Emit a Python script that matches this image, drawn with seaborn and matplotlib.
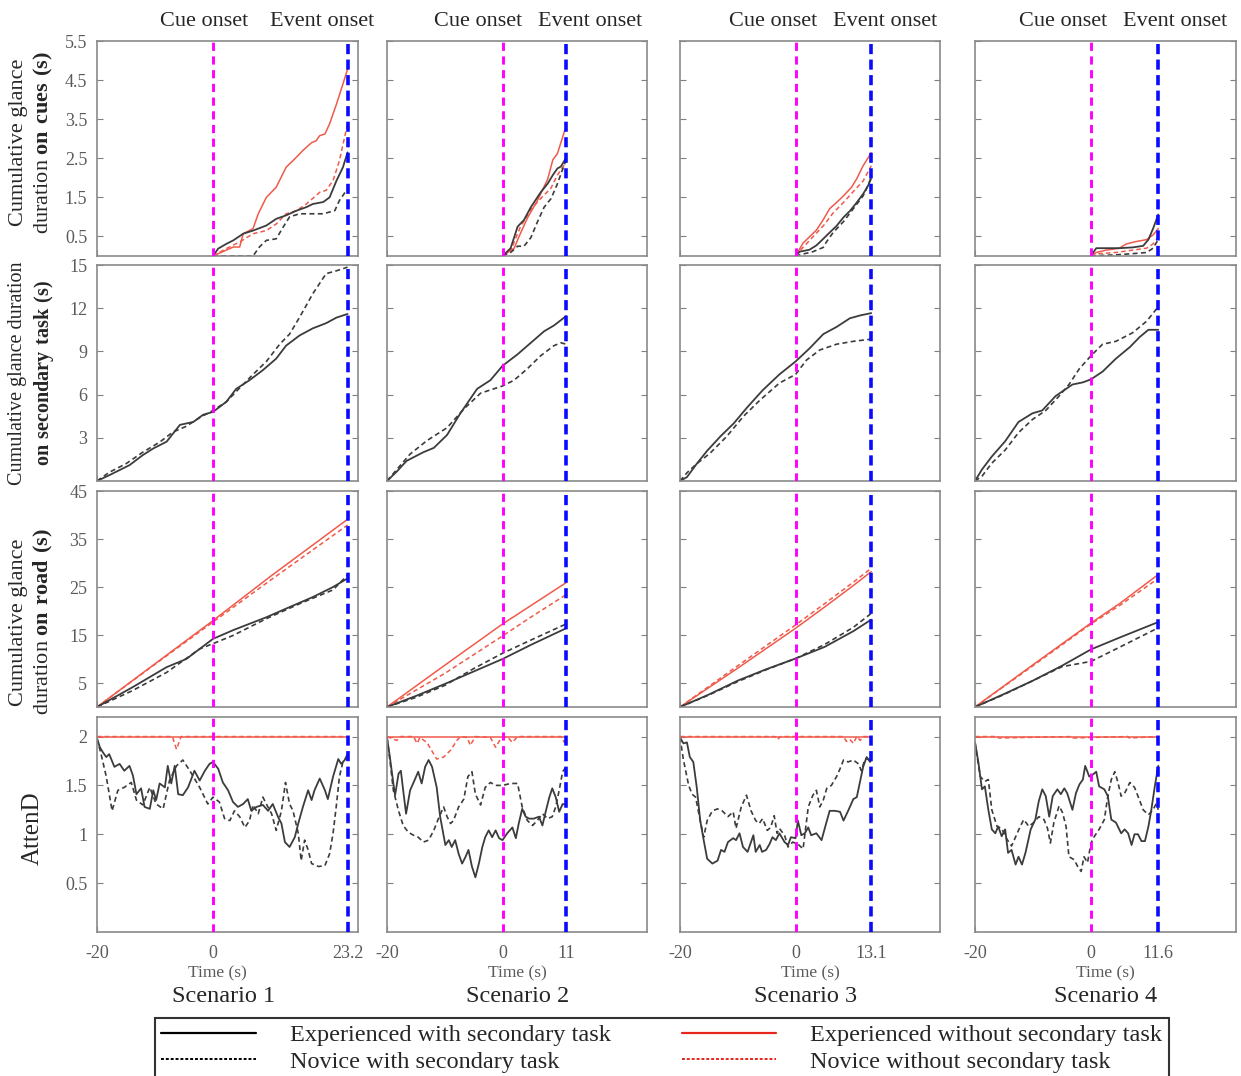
import matplotlib
matplotlib.use('Agg')
import matplotlib.pyplot as plt
import seaborn as sns
from matplotlib.lines import Line2D

# ---------------- data ----------------
# each series: [time (s), value]
scenario_names = ['Scenario 1', 'Scenario 2', 'Scenario 3', 'Scenario 4']
event_times = [23.2, 11, 13.1, 11.6]
series_labels = ['Experienced with secondary task', 'Novice with secondary task',
                 'Experienced without secondary task', 'Novice without secondary task']

# Scenario 1
s1_cue_ew = [[0, 0.9, 2.3, 3.5, 5.2, 6.9, 9.2, 10.9, 12.6, 14.4, 16.1, 17.2, 19.0, 20.1, 21.3, 22.4, 23.2],
             [0, 0.19, 0.31, 0.40, 0.57, 0.65, 0.78, 0.95, 1.04, 1.16, 1.25, 1.33, 1.38, 1.50, 1.93, 2.27, 2.65]]
s1_cue_nw = [[0, 6.9, 8.0, 9.2, 10.9, 12.1, 13.2, 14.9, 17.2, 19.0, 21.0, 21.8, 23.2],
             [0, 0, 0.23, 0.40, 0.44, 0.74, 1.0, 1.08, 1.08, 1.08, 1.16, 1.42, 1.72]]
s1_cue_eo = [[0, 3.5, 4.6, 5.2, 6.9, 7.8, 9.2, 10.9, 12.6, 13.8, 15.5, 17.0, 17.8, 18.4, 19.3, 20.1, 21.3, 22.4, 23.2],
             [0, 0.23, 0.23, 0.57, 0.70, 1.08, 1.50, 1.76, 2.27, 2.44, 2.70, 2.90, 2.95, 3.08, 3.12, 3.38, 3.89, 4.40, 4.78]]
s1_cue_no = [[0, 2.3, 4.6, 6.9, 9.2, 10.9, 12.6, 14.4, 16.1, 18.4, 19.5, 20.7, 21.8, 23.2],
             [0, 0.19, 0.36, 0.57, 0.65, 0.82, 1.08, 1.16, 1.33, 1.63, 1.68, 1.93, 2.44, 3.38]]
s1_task_ew = [[-20, -17.9, -14.4, -12.1, -10.3, -8.0, -5.7, -3.4, -1.7, 0, 2.3, 4.0, 6.3, 8.6, 10.9, 12.6, 14.9, 17.2, 19.5, 21.3, 23.2],
              [0, 0.4, 1.1, 1.8, 2.26, 2.73, 3.9, 4.1, 4.6, 4.8, 5.5, 6.4, 7.0, 7.7, 8.5, 9.4, 10.1, 10.6, 10.96, 11.35, 11.6]]
s1_task_nw = [[-20, -17.9, -15, -12.1, -9.2, -6.9, -4.6, -2.3, 0, 2.3, 4.6, 6.9, 9.2, 11.5, 13.2, 14.9, 17.2, 19.5, 21.3, 23.2],
              [0, 0.6, 1.2, 2.0, 2.7, 3.4, 3.8, 4.4, 4.9, 5.5, 6.46, 7.4, 8.3, 9.5, 10.2, 11.35, 13.0, 14.4, 14.6, 14.85]]
s1_road_ew = [[-20, -13.9, -8.0, -4.6, 0, 3.45, 9.2, 12.6, 17.2, 20.7, 23.2],
              [0, 4.1, 8.3, 10.0, 14.2, 16.0, 18.7, 20.5, 22.9, 25.0, 26.8]]
s1_road_nw = [[-20, -13.9, -8.0, -2.3, 0, 3.45, 9.2, 14.9, 20.7, 23.2],
              [0, 3.4, 7.2, 12.1, 13.2, 14.9, 18.4, 21.5, 24.4, 27.5]]
s1_road_eo = [[-20, -10, 0, 10, 23.2], [0, 9.0, 18.0, 27.3, 39.1]]
s1_road_no = [[-20, -10, 0, 10, 23.2], [0, 8.9, 17.7, 26.5, 37.9]]
s1_att_ew = [[-20, -19.5, -19, -18.4, -17.9, -17, -16.1, -15.3, -14.4, -13.8, -13.2, -12.4, -11.8, -10.9, -10.3, -9.8,
              -9.2, -8.3, -7.8, -7.2, -6.6, -6.0, -5.2, -4.3, -3.2, -2.3, -1.4, -0.6, 0, 0.9, 1.7, 2.6, 3.45, 4.3, 5.2,
              6.0, 6.6, 7.5, 8.6, 9.5, 10.3, 11.2, 11.8, 12.4, 13.2, 14.1, 14.7, 15.5, 16.4, 17.0, 17.5, 18.4, 19.3,
              19.8, 20.7, 21.6, 22.1, 22.7, 23.2],
             [1.98, 1.89, 1.84, 1.79, 1.82, 1.69, 1.72, 1.65, 1.70, 1.60, 1.41, 1.47, 1.28, 1.26, 1.45, 1.35,
              1.52, 1.48, 1.70, 1.52, 1.70, 1.41, 1.40, 1.48, 1.65, 1.55, 1.65, 1.72, 1.74, 1.67, 1.53, 1.45, 1.33, 1.28, 1.31,
              1.36, 1.24, 1.28, 1.30, 1.24, 1.31, 1.18, 1.11, 0.92, 0.87, 0.97, 1.11, 1.28, 1.45, 1.35, 1.45, 1.57, 1.45,
              1.36, 1.59, 1.77, 1.72, 1.76, 1.82]]
s1_att_nw = [[-20, -19.3, -18.4, -17.4, -16.4, -15.3, -14.1, -13.2, -12.1, -10.9, -9.8, -8.6, -7.5, -6.3, -5.2, -4.0,
              -2.3, -0.9, 0, 1.1, 2.0, 2.9, 3.7, 4.6, 5.5, 6.3, 6.9, 7.8, 8.6, 9.2, 10.1, 10.9, 11.8, 12.5, 13.2, 13.8,
              14.7, 15.2, 15.8, 16.4, 17.0, 18.2, 19.3, 20.1, 20.7, 21.3, 21.8, 22.4, 23.2],
             [1.98, 1.82, 1.59, 1.24, 1.45, 1.48, 1.53, 1.35, 1.30, 1.48, 1.31, 1.26, 1.55, 1.70, 1.76, 1.65,
              1.48, 1.31, 1.38, 1.33, 1.16, 1.14, 1.24, 1.18, 1.07, 1.14, 1.30, 1.21, 1.38, 1.31, 1.21, 1.04, 1.24, 1.53, 1.31, 1.24,
              1.01, 0.73, 0.94, 0.84, 0.70, 0.67, 0.68, 0.80, 1.01, 1.31, 1.59, 1.74, 1.79]]
s1_att_eo = [[-20, 23.2], [2, 2]]
s1_att_no = [[-20, -7.0, -6.3, -5.5, 23.2], [2, 2, 1.87, 2, 2]]

# Scenario 2
s2_cue_ew = [[0, 1.4, 2.6, 3.7, 4.9, 6.6, 7.8, 8.7, 9.5, 10.1, 11],
             [0, 0.2, 0.75, 0.92, 1.25, 1.63, 1.85, 2.07, 2.24, 2.29, 2.51]]
s2_cue_nw = [[0, 1.4, 2.6, 3.7, 4.9, 6.0, 7.2, 8.4, 9.5, 11],
             [0, 0.09, 0.25, 0.25, 0.47, 0.86, 1.25, 1.47, 1.85, 2.46]]
s2_cue_eo = [[0, 2.0, 3.1, 4.3, 6.0, 7.8, 8.7, 9.5, 10.8],
             [0, 0.2, 0.58, 0.97, 1.41, 1.96, 2.46, 2.62, 3.23]]
s2_cue_no = [[0, 1.4, 3.1, 4.9, 6.6, 8.4, 9.5, 11],
             [0, 0.14, 0.75, 1.19, 1.47, 1.74, 2.07, 2.40]]
s2_task_ew = [[-20, -18.3, -16.6, -13.7, -11.9, -9.6, -7.3, -4.4, -2.1, 0, 2.6, 4.9, 7.2, 8.9, 11],
              [0, 0.66, 1.4, 2.0, 2.3, 3.2, 4.7, 6.4, 7.0, 8.0, 8.8, 9.6, 10.4, 10.8, 11.45]]
s2_task_nw = [[-20, -18.3, -16, -13.1, -9.6, -6.7, -3.8, 0, 2.0, 4.3, 6.6, 8.9, 10.1, 11],
              [0, 0.8, 1.87, 2.8, 3.7, 5.0, 6.1, 6.6, 7.0, 7.8, 8.7, 9.4, 9.6, 9.5]]
s2_road_ew = [[-20, -15, -10, -5, 0, 5, 11], [0, 2.3, 4.8, 7.4, 10.0, 13.0, 16.4]]
s2_road_nw = [[-20, -15, -10, -5, 0, 5, 11], [0, 2.0, 4.5, 8.0, 11.2, 14.0, 17.3]]
s2_road_eo = [[-20, -10, 0, 5, 11], [0, 8.7, 17.3, 21.2, 25.9]]
s2_road_no = [[-20, -10, 0, 5, 11], [0, 7.0, 14.8, 18.8, 23.4]]
s2_att_ew = [[-20, -19.5, -18.9, -18.6, -18.0, -17.6, -17.2, -16.7, -16.0, -15.4, -14.6, -14.0, -13.4, -12.8, -12.2,
              -11.4, -10.8, -9.9, -9.3, -8.8, -8.2, -7.6, -7.0, -6.4, -5.9, -5.3, -4.7, -4.1, -3.5, -3.0, -2.4, -1.8,
              -1.2, -0.6, 0, 0.8, 1.7, 2.3, 2.8, 3.4, 4.0, 4.6, 5.4, 6.3, 6.9, 7.5, 8.1, 8.6, 9.2, 9.8, 10.4, 11],
             [1.99, 1.79, 1.52, 1.40, 1.62, 1.65, 1.45, 1.21, 1.45, 1.53, 1.64, 1.52, 1.69, 1.76, 1.69,
              1.48, 1.18, 0.89, 0.94, 0.87, 0.94, 0.80, 0.70, 0.77, 0.84, 0.67, 0.56, 0.70, 0.87, 0.97, 1.04, 0.97,
              1.04, 0.96, 0.94, 1.01, 1.07, 0.96, 1.11, 1.26, 1.18, 1.16, 1.16, 1.18, 1.09, 1.24, 1.38, 1.47, 1.38, 1.23, 1.31, 1.30]]
s2_att_nw = [[-20, -19.5, -18.9, -18.0, -17.2, -16.3, -15.4, -14.6, -13.7, -12.8, -11.9, -11.1, -10.2, -9.6, -9.0,
              -8.5, -7.6, -6.7, -6.0, -5.3, -4.7, -3.8, -3.0, -2.1, -1.2, 0, 1.4, 2.6, 3.4, 4.3, 5.2, 6.0, 6.9, 7.8,
              8.6, 9.2, 9.8, 10.4, 11],
             [1.99, 1.76, 1.45, 1.24, 1.09, 1.02, 0.99, 0.97, 0.92, 0.94, 1.04, 1.16, 1.28, 1.18, 1.11,
              1.14, 1.28, 1.36, 1.59, 1.64, 1.41, 1.30, 1.48, 1.53, 1.50, 1.50, 1.52, 1.52, 1.28, 1.14, 1.09, 1.14, 1.21, 1.16,
              1.18, 1.28, 1.45, 1.64, 1.69]]
s2_att_eo = [[-20, 11], [2, 2]]
s2_att_no = [[-20, -18.3, -17.7, -15.4, -14.8, -14.3, -13.1, -11.4, -10.2, -9.0, -7.9, -7.3, -6.1, -5.6, -4.7, -2.1,
              -1.2, -0.3, 0.8, 1.7, 2.6, 10.1, 10.7, 11],
             [2, 1.96, 2, 2, 1.93, 1.99, 1.94, 1.77, 1.79, 1.86, 1.96, 2, 1.99, 1.91, 2, 1.99,
              1.89, 1.98, 2, 1.94, 2, 2, 1.94, 2]]

# Scenario 3
s3_cue_ew = [[0, 0.7, 2.4, 3.6, 4.8, 5.9, 7.1, 8.3, 9.4, 10.6, 11.7, 12.6, 13.1],
             [0, 0.11, 0.16, 0.27, 0.44, 0.60, 0.77, 0.99, 1.15, 1.37, 1.59, 1.81, 2.03]]
s3_cue_nw = [[0, 1.3, 3.0, 4.8, 5.3, 6.5, 8.3, 10.0, 11.7, 13.1],
             [0, 0.05, 0.11, 0.22, 0.35, 0.60, 0.88, 1.21, 1.54, 1.98]]
s3_cue_eo = [[0, 1.3, 2.4, 3.6, 4.8, 5.9, 7.1, 8.3, 9.7, 10.6, 11.7, 13.1],
             [0, 0.33, 0.49, 0.66, 0.93, 1.21, 1.37, 1.54, 1.76, 1.98, 2.31, 2.64]]
s3_cue_no = [[0, 1.3, 3.0, 4.8, 6.5, 8.3, 10.0, 11.7, 13.1],
             [0, 0.22, 0.49, 0.77, 1.10, 1.37, 1.65, 1.92, 2.31]]
s3_task_ew = [[-20, -18.8, -17.1, -15.3, -13.0, -10.7, -8.4, -5.7, -2.8, 0, 2.4, 4.8, 7.1, 9.4, 11.2, 13.1],
              [0, 0.27, 1.2, 2.1, 3.1, 4.0, 5.1, 6.3, 7.4, 8.3, 9.2, 10.2, 10.7, 11.3, 11.5, 11.66]]
s3_task_nw = [[-20, -18.8, -17.1, -14.8, -11.9, -9.0, -6.2, -2.8, 0, 1.9, 4.2, 7.1, 10.0, 13.1],
              [0, 0.57, 1.2, 1.93, 3.1, 4.5, 5.6, 6.8, 7.4, 8.4, 9.1, 9.5, 9.7, 9.85]]
s3_road_ew = [[-20, -15, -10, -5, 0, 5, 10, 13.1], [0, 2.6, 5.5, 7.9, 10.1, 12.5, 15.8, 18.2]]
s3_road_nw = [[-20, -15, -10, -5, 0, 5, 10, 13.1], [0, 2.5, 5.3, 7.8, 10.1, 13.0, 16.6, 19.5]]
s3_road_eo = [[-20, -10, 0, 5, 10, 13.1], [0, 8.1, 16.4, 20.8, 25.3, 28.2]]
s3_road_no = [[-20, -10, 0, 5, 10, 13.1], [0, 8.6, 17.1, 21.5, 26.0, 28.9]]
s3_att_ew = [[-20, -19.4, -18.8, -18.3, -17.7, -17.1, -16.5, -15.9, -15.3, -14.4, -13.5, -12.9, -12.3, -11.7, -10.8,
              -10.3, -9.7, -9.1, -8.3, -7.3, -6.9, -6.2, -5.8, -5.1, -4.5, -4.0, -3.4, -2.8, -1.9, -1.3, -0.8, 0, 0.4,
              1.0, 1.6, 2.2, 2.7, 3.6, 4.5, 5.1, 5.9, 6.8, 7.7, 8.3, 9.1, 10.0, 10.6, 11.2, 11.7, 12.3, 12.9, 13.1],
             [1.99, 1.93, 1.94, 1.79, 1.74, 1.48, 1.14, 0.94, 0.75, 0.70, 0.73, 0.84, 0.82, 0.92, 0.96,
              0.94, 1.01, 0.87, 0.82, 0.99, 0.82, 0.89, 0.82, 0.84, 0.90, 0.97, 0.94, 1.01, 0.92, 0.89, 0.97, 0.96, 1.14,
              0.99, 1.01, 1.07, 0.99, 1.01, 0.94, 1.07, 1.24, 1.24, 1.23, 1.14, 1.24, 1.36, 1.38, 1.55, 1.69, 1.79, 1.74, 1.76]]
s3_att_nw = [[-20, -19.4, -18.5, -17.9, -17.3, -16.5, -15.9, -15.3, -14.4, -13.5, -12.7, -11.7, -10.8, -10.3, -9.4,
              -8.5, -7.7, -6.9, -6.3, -5.7, -4.9, -4.3, -3.7, -3.2, -2.8, -1.9, -1.3, -0.5, 0.4, 1.3, 2.2, 3.0, 3.6,
              4.2, 4.8, 5.4, 6.2, 7.1, 7.7, 8.3, 9.1, 10.0, 10.9, 11.4, 12.0, 12.6, 13.1],
             [1.99, 1.76, 1.50, 1.41, 1.38, 1.14, 0.97, 1.14, 1.24, 1.26, 1.24, 1.18, 1.23, 1.06, 1.28,
              1.40, 1.24, 1.14, 1.11, 1.16, 1.04, 1.07, 1.19, 1.01, 1.06, 0.99, 0.87, 0.92, 0.90, 0.85, 1.28, 1.40, 1.45,
              1.28, 1.35, 1.47, 1.50, 1.59, 1.67, 1.76, 1.74, 1.76, 1.72, 1.65, 1.77, 1.77, 1.76]]
s3_att_eo = [[-20, 13.1], [2, 2]]
s3_att_no = [[-20, -3.6, -3.1, -2.6, 8.3, 8.8, 9.4, 10.0, 10.6, 11.2, 11.7, 13.1],
             [2, 2, 1.97, 2, 2, 1.95, 1.97, 1.93, 2, 1.96, 2, 2]]

# Scenario 4
s4_cue_ew = [[0, 0.9, 2.6, 4.9, 7.2, 9.0, 9.9, 10.7, 11.6],
             [0, 0.2, 0.2, 0.2, 0.22, 0.26, 0.42, 0.70, 1.06]]
s4_cue_nw = [[0, 1.4, 4.3, 7.2, 9.6, 10.7, 11.6],
             [0, 0.01, 0.03, 0.06, 0.09, 0.2, 0.42]]
s4_cue_eo = [[0, 0.9, 2.6, 4.9, 6.1, 7.8, 9.6, 10.7, 11.6],
             [0, 0.09, 0.15, 0.2, 0.31, 0.37, 0.42, 0.54, 0.70]]
s4_cue_no = [[0, 1.4, 4.3, 7.2, 9.6, 10.7, 11.6],
             [0, 0.06, 0.09, 0.15, 0.2, 0.31, 0.48]]
s4_task_ew = [[-20, -18.8, -17.1, -14.8, -12.5, -10.1, -8.4, -6.1, -3.2, -1.4, 0, 2.0, 4.3, 6.7, 8.4, 9.9, 11.6],
              [0, 0.8, 1.7, 2.76, 4.1, 4.7, 4.9, 5.9, 6.7, 6.85, 7.06, 7.6, 8.5, 9.3, 10.0, 10.5, 10.5]]
s4_task_nw = [[-20, -18.8, -17.1, -14.8, -12.5, -10.1, -7.8, -5.5, -3.8, -2.0, 0, 2.0, 4.3, 7.2, 9.6, 11.6],
              [0, 0.33, 1.24, 2.15, 3.36, 4.27, 4.9, 5.9, 6.7, 7.8, 8.7, 9.5, 9.7, 10.3, 11.1, 12.1]]
s4_road_ew = [[-20, -15, -10, -5, 0, 5, 11.6], [0, 2.7, 5.5, 8.6, 12.0, 14.5, 17.7]]
s4_road_nw = [[-20, -15, -10, -5, 0, 5, 11.6], [0, 2.6, 5.5, 8.4, 9.5, 12.5, 16.5]]
s4_road_eo = [[-20, -10, 0, 5, 11.6], [0, 8.8, 17.5, 21.6, 27.6]]
s4_road_no = [[-20, -10, 0, 5, 11.6], [0, 8.6, 17.3, 21.2, 26.8]]
s4_att_ew = [[-20, -19.4, -18.8, -18.3, -17.7, -17.1, -16.5, -16.0, -15.4, -14.8, -14.3, -13.7, -13.0, -12.5, -11.9,
              -11.3, -10.4, -9.6, -9.0, -8.4, -7.8, -7.2, -6.6, -5.8, -5.2, -4.6, -4.1, -3.2, -2.6, -2.0, -1.4, -1.0,
              -0.3, 0.3, 0.9, 1.4, 2.3, 2.9, 3.5, 4.3, 5.2, 5.8, 6.4, 7.0, 7.5, 8.1, 8.7, 9.3, 9.9, 10.4, 11.0, 11.6],
             [1.94, 1.73, 1.46, 1.49, 1.25, 1.05, 1.01, 1.08, 0.98, 1.05, 0.81, 0.84, 0.69, 0.77, 0.69,
              0.81, 1.05, 1.15, 1.34, 1.46, 1.39, 1.18, 1.39, 1.46, 1.41, 1.47, 1.42, 1.25, 1.42, 1.51, 1.56, 1.70,
              1.59, 1.61, 1.64, 1.49, 1.46, 1.39, 1.15, 1.12, 1.01, 1.05, 1.01, 0.89, 1.0, 1.0, 0.93, 0.93, 1.08, 1.25, 1.49, 1.70]]
s4_att_nw = [[-20, -19.1, -18.3, -17.7, -17.1, -16.2, -15.4, -14.5, -13.7, -12.8, -12.2, -11.6, -10.7, -9.9, -9.0,
              -8.1, -7.5, -7.0, -6.4, -5.5, -4.9, -4.3, -3.8, -2.9, -2.3, -1.7, -1.2, -0.6, 0, 0.6, 1.4, 2.3, 2.9,
              3.5, 4.1, 4.6, 5.2, 5.8, 6.7, 7.5, 8.1, 9.0, 9.9, 10.7, 11.3, 11.6],
             [1.94, 1.59, 1.54, 1.56, 1.25, 1.08, 1.06, 0.95, 0.88, 1.0, 1.08, 1.15, 1.08, 1.12, 1.18,
              1.15, 1.06, 0.91, 1.12, 1.29, 1.22, 1.08, 0.77, 0.74, 0.67, 0.62, 0.77, 0.71, 0.91, 0.98, 1.05, 1.15, 1.39,
              1.56, 1.64, 1.54, 1.39, 1.42, 1.53, 1.48, 1.39, 1.25, 1.20, 1.25, 1.32, 1.25]]
s4_att_eo = [[-20, 11.6], [2, 2]]
s4_att_no = [[-20, -16.1, -15.9, -3.3, -3.1, 6.4, 6.6, 11.6], [2, 2, 1.985, 2, 1.985, 2, 1.985, 2]]

row_ylims = [5.5, 15, 45, 2.2]
row_yticks = [[0.5, 1.5, 2.5, 3.5, 4.5, 5.5], [3, 6, 9, 12, 15], [5, 15, 25, 35, 45], [0.5, 1, 1.5, 2]]
row_yticklabels = [['0.5', '1.5', '2.5', '3.5', '4.5', '5.5'], ['3', '6', '9', '12', '15'],
                   ['5', '15', '25', '35', '45'], ['0.5', '1', '1.5', '2']]

# ---------------- style ----------------
sns.set_style('white')
plt.rcParams['font.family'] = ['Liberation Serif', 'DejaVu Serif']
plt.rcParams['mathtext.fontset'] = 'custom'
plt.rcParams['mathtext.rm'] = 'Liberation Serif'
plt.rcParams['mathtext.bf'] = 'Liberation Serif:bold'

BLACK = '#3c3c3c'
RED = '#f05a4a'
GRAY = '#5a5a5a'
styles = [dict(color=BLACK, lw=1.3, ls='-'),
          dict(color=BLACK, lw=1.2, ls=(0, (3, 2))),
          dict(color=RED, lw=1.1, ls='-'),
          dict(color=RED, lw=1.1, ls=(0, (3, 2)))]

panels = [
    [[s1_cue_ew, s1_cue_nw, s1_cue_eo, s1_cue_no], [s1_task_ew, s1_task_nw],
     [s1_road_ew, s1_road_nw, s1_road_eo, s1_road_no], [s1_att_ew, s1_att_nw, s1_att_eo, s1_att_no]],
    [[s2_cue_ew, s2_cue_nw, s2_cue_eo, s2_cue_no], [s2_task_ew, s2_task_nw],
     [s2_road_ew, s2_road_nw, s2_road_eo, s2_road_no], [s2_att_ew, s2_att_nw, s2_att_eo, s2_att_no]],
    [[s3_cue_ew, s3_cue_nw, s3_cue_eo, s3_cue_no], [s3_task_ew, s3_task_nw],
     [s3_road_ew, s3_road_nw, s3_road_eo, s3_road_no], [s3_att_ew, s3_att_nw, s3_att_eo, s3_att_no]],
    [[s4_cue_ew, s4_cue_nw, s4_cue_eo, s4_cue_no], [s4_task_ew, s4_task_nw],
     [s4_road_ew, s4_road_nw, s4_road_eo, s4_road_no], [s4_att_ew, s4_att_nw, s4_att_eo, s4_att_no]],
]

W, H = 1241, 1076
fig = plt.figure(figsize=(W / 100, H / 100), dpi=100)

col_px = [(97, 358), (387, 647), (680, 940), (975, 1236)]
row_px = [(41, 256), (265, 481), (491, 707), (717, 932)]
cue_text_x = [204, 478, 773, 1063]
event_text_x = [322, 590, 885, 1175]
time_text_x = [217, 517, 810, 1105]
scen_text_x = [224, 518, 806, 1106]

for c in range(4):
    x0, x1 = col_px[c]
    t_end = event_times[c]
    for r in range(4):
        y0, y1 = row_px[r]
        ax = fig.add_axes([x0 / W, 1 - y1 / H, (x1 - x0) / W, (y1 - y0) / H])
        series = panels[c][r]
        # red (without task) first, black on top
        order = [3, 2, 1, 0] if len(series) == 4 else [1, 0]
        for k in order:
            t, v = series[k]
            sns.lineplot(x=t, y=v, ax=ax, estimator=None, sort=False,
                         color=styles[k]['color'], linewidth=styles[k]['lw'],
                         linestyle=styles[k]['ls'], zorder=2)
        ax.axvline(0, color='#ff00ff', lw=2.1, ls=(0, (2.8, 1.9)), zorder=3)
        ax.axvline(t_end, color='#0a0aff', lw=2.6, ls=(0, (2.8, 1.5)), zorder=3)
        ax.set_xlim(-20, 25)
        ax.set_ylim(0, row_ylims[r])
        ax.set_xticks([-20, 0, t_end])
        ax.set_yticks(row_yticks[r])
        ax.tick_params(direction='in', length=4, width=0.8, color='#808080',
                       right=True, top=False, bottom=True, left=True,
                       labelsize=13, labelcolor=GRAY)
        ax.tick_params(axis='x', pad=9)
        ax.tick_params(axis='y', pad=7)
        if c == 0:
            ax.set_yticklabels(row_yticklabels[r])
        else:
            ax.set_yticklabels([])
        if r == 3:
            ax.set_xticklabels(['-20', '0', f'{t_end:g}'])
        else:
            ax.set_xticklabels([])
        ax.set_xlabel('')
        ax.set_ylabel('')
        for sp in ax.spines.values():
            sp.set_color('#8a8a8a')
            sp.set_linewidth(1.2)

    fig.text(cue_text_x[c] / W, 1 - 21 / H, 'Cue onset', ha='center', va='center', fontsize=16)
    fig.text(event_text_x[c] / W, 1 - 21 / H, 'Event onset', ha='center', va='center', fontsize=16)
    fig.text(time_text_x[c] / W, 1 - 973 / H, 'Time (s)', ha='center', va='center', fontsize=12.5, color=GRAY)
    fig.text(scen_text_x[c] / W, 1 - 997 / H, scenario_names[c], ha='center', va='center', fontsize=17.5)

# y labels
ylab_kw = dict(rotation=90, ha='center', va='center', multialignment='center', linespacing=1.25)
fig.text(32 / W, 1 - 142 / H, 'Cumulative glance\nduration $\\mathbf{on\\ cues\\ (s)}$', fontsize=16, **ylab_kw)
fig.text(32 / W, 1 - 373 / H, 'Cumulative glance duration\n$\\mathbf{on\\ secondary\\ task\\ (s)}$', fontsize=14.5, **ylab_kw)
fig.text(32 / W, 1 - 622 / H, 'Cumulative glance\nduration $\\mathbf{on\\ road\\ (s)}$', fontsize=16, **ylab_kw)
fig.text(33 / W, 1 - 828 / H, 'AttenD', fontsize=18, **ylab_kw)

# legend
handles = [Line2D([0], [0], color='black', lw=1.6, ls='-'),
           Line2D([0], [0], color='black', lw=1.4, ls=(0, (1.5, 1))),
           Line2D([0], [0], color='#e8261c', lw=1.6, ls='-'),
           Line2D([0], [0], color='#e8261c', lw=1.4, ls=(0, (1.5, 1)))]
leg = fig.legend(handles, series_labels, ncol=2, loc='upper center',
                 bbox_to_anchor=(662 / W, 1 - 1018 / H), frameon=True, fancybox=False,
                 edgecolor='black', fontsize=17.5, handlelength=3.9, handletextpad=1.4,
                 columnspacing=2.9, labelspacing=0.2, borderpad=0.25, borderaxespad=0)
leg.get_frame().set_linewidth(1.5)

fig.savefig('out.png', dpi=100)
